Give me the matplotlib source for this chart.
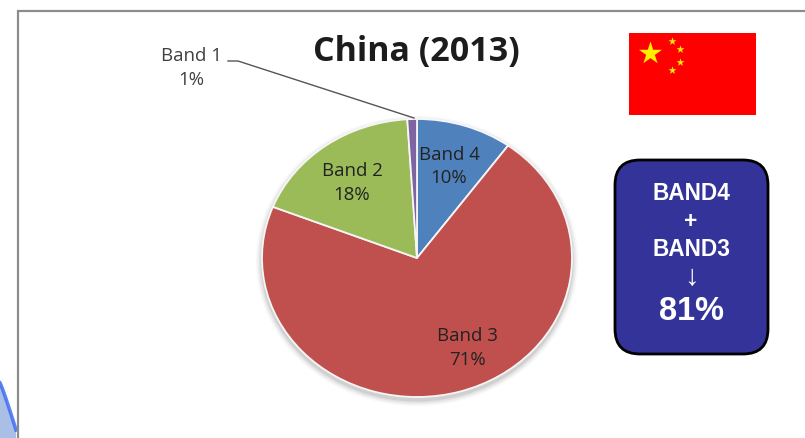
import matplotlib
matplotlib.use("Agg")
import matplotlib.pyplot as plt
import numpy as np
from matplotlib.patches import Ellipse, FancyBboxPatch, Polygon, Rectangle

# Shares of each band, clockwise from twelve o'clock
bands = ["Band 4", "Band 3", "Band 2", "Band 1"]
shares = [10, 71, 18, 1]
colors = ["#4F81BD", "#C0504D", "#9BBB59", "#8064A2"]
title = "China (2013)"
callout = ["BAND4", "+", "BAND3", "↓", "81%"]

W, H = 805, 438
CX, CY, RX, RY = 417, 258, 155, 139

fig = plt.figure(figsize=(W / 100, H / 100), dpi=100, facecolor="white")

# Overlay in pixel coordinates for frame, flag and callout
ov = fig.add_axes([0, 0, 1, 1], zorder=1)
ov.set_xlim(0, W)
ov.set_ylim(H, 0)
ov.axis("off")

# Soft shadow under the pie
for grow, alpha in [(6, .04), (4.5, .06), (3, .08), (1.5, .12)]:
    ov.add_patch(Ellipse((CX, CY + 3), 2 * (RX + grow), 2 * (RY + grow),
                         fc="#555555", ec="none", alpha=alpha))

# Slide frame and the corner swoosh
ov.plot([17.5, 17.5, W], [H, 10.5, 10.5], color="#8c8c8c", lw=1.6,
        solid_joinstyle="miter", zorder=5)
arc_x = np.linspace(0, 16, 30)
arc_y = 383 + 47 * (arc_x / 16) ** 1.1
ov.add_patch(Polygon(np.r_[np.c_[arc_x, arc_y], [[16, H], [0, H]]],
                     fc="#a9bfe6", ec="none", zorder=3))
ov.plot(arc_x, arc_y, color="#3f6df0", lw=2.6, alpha=.85, zorder=4)

# Pie axes: horizontally stretched, so each radius has its own scale
ax = fig.add_axes([0, 0, 1, 1], zorder=2)
ax.patch.set_alpha(0)
wedges, _ = ax.pie(shares, colors=colors, startangle=90, counterclock=False,
                   wedgeprops=dict(edgecolor="#f6f6f6", linewidth=1.3))
ax.set_aspect("auto")
ax.set_xlim(-CX / RX, (W - CX) / RX)
ax.set_ylim(-(H - CY) / RY, CY / RY)
ax.axis("off")

# Labels and leader line on top of the pie
top = fig.add_axes([0, 0, 1, 1], zorder=3)
top.set_xlim(0, W)
top.set_ylim(H, 0)
top.axis("off")
top.patch.set_alpha(0)

label_pos = {"Band 4": (449, 155, 178), "Band 3": (467, 336, 360),
             "Band 2": (352, 171, 195), "Band 1": (191, 56, 80)}
for name, share in zip(bands, shares):
    x, y1, y2 = label_pos[name]
    ink = "#404040" if name == "Band 1" else "#222222"
    for s, y in ((name, y1), (f"{share}%", y2)):
        top.text(x, y, s, ha="center", va="center", family="Open Sans",
                 fontsize=13.4, color=ink)
top.plot([228, 238, 414], [61, 61, 118], color="#555555", lw=1)

top.text(416.5, 52, title, ha="center", va="center", family="Open Sans",
         fontsize=24.5, fontweight="bold", color="#1c1c1c")

# Flag
top.add_patch(Rectangle((629, 33), 127, 82, fc="#ff0000", ec="none"))
top.scatter([650], [53], marker="*", s=300, c="#ffee00", linewidths=0)
top.scatter([671.5, 680, 680, 671.5], [41, 49, 62, 70], marker="*", s=36,
            c="#ffee00", linewidths=0)

# Callout box
top.add_patch(FancyBboxPatch((615 + 25, 160 + 25), 153 - 50, 194 - 50,
                             boxstyle="round,pad=25,rounding_size=25",
                             fc="#333399", ec="black", lw=2))
ys = [193, 221, 249, 277, 312]
sizes = [16.3, 16.3, 16.3, 21, 23.5]
for s, y, fs in zip(callout, ys, sizes):
    weight = "normal" if s == "↓" else "bold"
    top.text(691, y, s, ha="center", va="center",
             family=["Liberation Sans", "DejaVu Sans"], fontsize=fs,
             fontweight=weight, color="white")

fig.savefig("out.png", dpi=100)
